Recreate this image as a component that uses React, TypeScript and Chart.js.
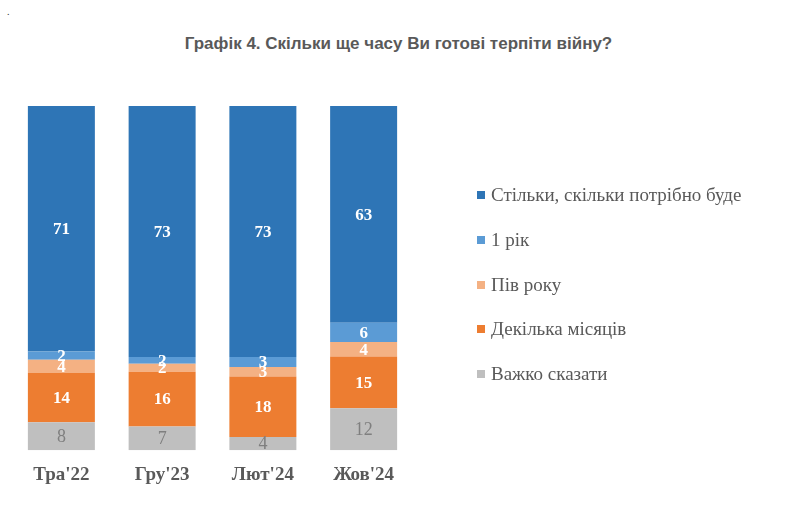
import React, { useEffect, useRef } from 'react';
import Chart from 'chart.js/auto';

// shares in % (100% stacked)
const periods: string[] = ["Тра'22", "Гру'23", "Лют'24", "Жов'24"];
const hardToSay: number[] = [8.1, 6.9, 3.8, 12.2];
const fewMonths: number[] = [14.3, 15.9, 17.6, 15.0];
const halfYear: number[] = [3.9, 2.3, 2.8, 4.2];
const oneYear: number[] = [2.4, 2.0, 2.9, 5.6];
const asLongAsNeeded: number[] = [71.3, 72.9, 72.9, 63.0];

const seriesNames: string[] = [
  'Важко сказати',
  'Декілька місяців',
  'Пів року',
  '1 рік',
  'Стільки, скільки потрібно буде',
];
const seriesColors: string[] = ['#BFBFBF', '#ED7D31', '#F4B183', '#5B9BD5', '#2E75B6'];

const TEXT = '#595959';
const SERIF = "'Liberation Serif', 'Times New Roman', serif";

const segmentLabels = {
  id: 'segmentLabels',
  afterDatasetsDraw(chart: any) {
    const ctx = chart.ctx;
    ctx.save();
    ctx.textAlign = 'center';
    ctx.textBaseline = 'middle';
    chart.data.datasets.forEach((ds: any, i: number) => {
      const meta = chart.getDatasetMeta(i);
      meta.data.forEach((bar: any, j: number) => {
        const v = ds.data[j];
        const cy = (bar.y + bar.base) / 2;
        if (i === 0) {
          ctx.font = `18px ${SERIF}`;
          ctx.fillStyle = '#7F7F7F';
        } else {
          ctx.font = `bold 17px ${SERIF}`;
          ctx.fillStyle = '#FFFFFF';
        }
        ctx.fillText(String(Math.round(v)), bar.x, cy + 1);
      });
    });
    ctx.restore();
  },
};

const App: React.FC = () => {
  const canvasRef = useRef<HTMLCanvasElement>(null);
  const chartRef = useRef<Chart | null>(null);

  useEffect(() => {
    if (!canvasRef.current) return;
    const ctx = canvasRef.current.getContext('2d');
    if (!ctx) return;
    if (chartRef.current) chartRef.current.destroy();

    const values = [hardToSay, fewMonths, halfYear, oneYear, asLongAsNeeded];

    chartRef.current = new Chart(ctx, {
      type: 'bar',
      data: {
        labels: periods,
        datasets: values.map((d, i) => ({
          label: seriesNames[i],
          data: d,
          backgroundColor: seriesColors[i],
          borderWidth: 0,
          barPercentage: 1,
          categoryPercentage: 0.665,
        })),
      },
      options: {
        responsive: false,
        animation: false,
        layout: { padding: { left: 11, right: 388, top: 106, bottom: 24 } },
        plugins: {
          legend: { display: false },
          tooltip: { enabled: false },
        },
        scales: {
          x: {
            stacked: true,
            grid: { display: false, drawTicks: false },
            border: { display: false },
            ticks: {
              padding: 13,
              color: TEXT,
              font: { family: SERIF, size: 19, weight: 'bold' },
            },
          },
          y: {
            stacked: true,
            display: false,
            min: 0,
            max: 100,
          },
        },
      },
      plugins: [segmentLabels],
    });

    return () => {
      if (chartRef.current) {
        chartRef.current.destroy();
        chartRef.current = null;
      }
    };
  }, []);

  const legendTops = [195, 240, 285, 329, 374];
  const legendOrder = [4, 3, 2, 1, 0];

  return (
    <div style={{ position: 'absolute', left: 0, top: 0, width: 802, height: 523, background: '#fff', overflow: 'hidden' }}>
      <div style={{ position: 'absolute', left: 7, top: 6, fontSize: 10, color: '#333', fontFamily: SERIF }}>.</div>
      <div
        style={{
          position: 'absolute',
          left: 0,
          top: 34,
          width: 797,
          textAlign: 'center',
          fontFamily: "'Liberation Sans', Arial, sans-serif",
          fontWeight: 'bold',
          fontSize: 17,
          lineHeight: '20px',
          color: TEXT,
        }}
      >
        Графік 4. Скільки ще часу Ви готові терпіти війну?
      </div>
      <canvas ref={canvasRef} width={802} height={523} style={{ position: 'absolute', left: 0, top: 0 }} />
      {legendOrder.map((idx, k) => (
        <div
          key={idx}
          style={{
            position: 'absolute',
            left: 477,
            top: legendTops[k] - 12,
            height: 24,
            display: 'flex',
            alignItems: 'center',
            fontFamily: SERIF,
            fontSize: 19,
            color: TEXT,
            whiteSpace: 'nowrap',
          }}
        >
          <span style={{ display: 'inline-block', width: 8, height: 8, background: seriesColors[idx], marginRight: 6 }} />
          <span>{seriesNames[idx]}</span>
        </div>
      ))}
    </div>
  );
};

export default App;
